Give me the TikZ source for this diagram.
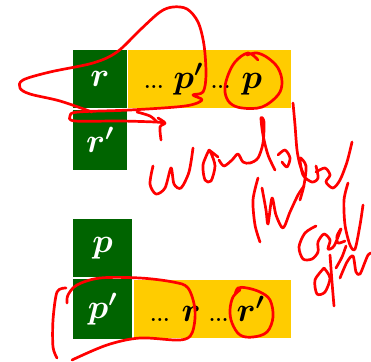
\RequirePackage{fix-cm}
\documentclass[tikz,border=0pt]{standalone}
\usepackage{amsmath}
\usepackage{amssymb}
\usepackage{xcolor}
\usepackage{tikz}
\usetikzlibrary{positioning}

\definecolor{slidegreen}{HTML}{006400}
\definecolor{slideyellow}{HTML}{FFCC00}
\definecolor{inkred}{HTML}{FF0000}

\newcommand{\dd}{{\fontsize{21}{20}\selectfont\textbf{...}}}
\newcommand{\bv}[1]{$\boldsymbol{#1}$}

\begin{document}
\begin{tikzpicture}[x=1pt, y=-1pt,
    node distance=1pt and 1pt,
    greenbox/.style={rectangle, fill=slidegreen, text=white, inner sep=0pt, outer sep=0pt, minimum width=54pt, minimum height=58pt, font=\fontsize{34}{36}\selectfont},
    yellowbox/.style={rectangle, fill=slideyellow, text=black, inner xsep=16pt, inner ysep=0pt, outer sep=0pt, minimum height=58pt, align=left, font=\fontsize{34}{36}\selectfont},
    ink/.style={draw=inkred, line width=2.7pt, line cap=round, line join=round}
]
    \useasboundingbox (0,0) rectangle (371,361);

    % upper row
    \node [greenbox] (r) at (100,79) {\bv{r}};
    \node [yellowbox, text width=131pt, right=1pt of r] (rrow) {\dd\hspace{10pt}\bv{p'}\hspace{8pt}\dd\hspace{11pt}\bv{p}};
    \node [greenbox, minimum height=60pt, below=2pt of r] (rr) {\bv{r'}};

    % lower row
    \node [greenbox, minimum width=59pt] (p) at (102.5,248) {\bv{p}};
    \node [greenbox, minimum width=59pt, minimum height=60pt, below=2pt of p] (pp) {\bv{p'}};
    \node [yellowbox, text width=125pt, right=2pt of pp] (prow) {\dd\hspace{12pt}\bv{r}\hspace{8pt}\dd\hspace{8pt}\bv{r'}};

    % hand-drawn marks, upper
    \draw [ink] plot [smooth, tension=0.55] coordinates {(92,112) (60,101) (30,94) (20,88) (23,80) (50,72) (93,63) (117,52) (140,30) (160,12) (173,7) (187,9) (198,22) (204,45) (206,75) (203,92) (193,95) (202,100) (185,106) (130,110) (78,112) (70,116) (75,121) (120,121) (155,122) (165,123)};
    \draw [ink] plot [smooth, tension=0.5] coordinates {(158,118) (165,123) (160,127) (161,140)};
    \draw [ink] plot [smooth, tension=0.5] coordinates {(137,112) (150,116) (157,122)};
    \draw [ink] plot [smooth, tension=0.6] coordinates {(258,60) (248,53) (235,62) (227,78) (225,92) (230,103) (242,108) (262,107) (278,95) (282,82) (278,68) (268,58) (257,53) (247,55)};

    % handwriting
    \draw [ink] plot [smooth, tension=0.5] coordinates {(153,166) (150,184) (156,194) (165,188) (171,168) (174,184) (181,188) (189,172) (193,148)};
    \draw [ink] plot [smooth, tension=0.5] coordinates {(209,150) (203,165) (205,180) (211,181) (215,166) (211,153) (209,150) (218,157)};
    \draw [ink] plot [smooth, tension=0.5] coordinates {(219,160) (224,166) (232,160) (238,154) (243,162) (250,163) (258,158) (263,143) (264,122) (261,118) (263,135) (268,155) (275,170)};
    \draw [ink] plot [smooth, tension=0.5] coordinates {(278,155) (285,150) (290,158) (287,167) (282,162)};
    \draw [ink] plot [smooth, tension=0.5] coordinates {(293,103) (295,125) (297,150) (300,165) (304,175)};
    \draw [ink] plot [smooth, tension=0.5] coordinates {(258,178) (253,200) (255,225) (260,242)};
    \draw [ink] plot [smooth, tension=0.5] coordinates {(262,188) (266,210) (268,224) (272,198) (276,215) (283,228) (290,212) (298,195) (304,186)};
    \draw [ink] plot [smooth, tension=0.5] coordinates {(300,200) (304,185) (306,166) (300,158) (303,175) (312,182) (318,178) (316,166)};
    \draw [ink] plot [smooth, tension=0.5] coordinates {(316,172) (325,168) (330,175) (326,182) (333,188) (340,180) (347,162) (352,142)};
    \draw [ink] plot [smooth, tension=0.5] coordinates {(316,226) (305,233) (299,247) (303,259) (312,259) (318,252) (318,242) (324,234) (330,240) (328,249) (334,246) (341,229) (337,236) (338,243) (345,241)};
    \draw [ink] plot [smooth, tension=0.5] coordinates {(348,183) (344,200) (345,225) (350,245) (355,249) (360,225) (363,205)};
    \draw [ink] plot [smooth, tension=0.5] coordinates {(324,268) (315,280) (317,294) (325,292) (330,278) (324,268)};
    \draw [ink] plot [smooth, tension=0.5] coordinates {(330,255) (332,282) (334,306)};
    \draw [ink] plot [smooth, tension=0.5] coordinates {(336,268) (342,257) (346,246)};
    \draw [ink] plot [smooth, tension=0.5] coordinates {(340,278) (347,262) (353,256) (356,272) (360,274) (365,262) (368,255) (371,253)};

    % hand-drawn marks, lower
    \draw [ink] plot [smooth, tension=0.55] coordinates {(67,303) (68,295) (77,285) (100,278) (140,278) (173,282) (188,288) (195,310) (192,333) (180,340) (140,338) (107,345) (72,360)};
    \draw [ink] plot [smooth, tension=0.5] coordinates {(66,288) (57,292) (53,320) (53,347) (57,358)};
    \draw [ink] plot [smooth, tension=0.6] coordinates {(235,295) (238,288) (247,288) (260,292) (270,300) (273,317) (267,332) (253,337) (240,335) (232,323) (230,310) (233,297) (240,290)};
\end{tikzpicture}
\end{document}
